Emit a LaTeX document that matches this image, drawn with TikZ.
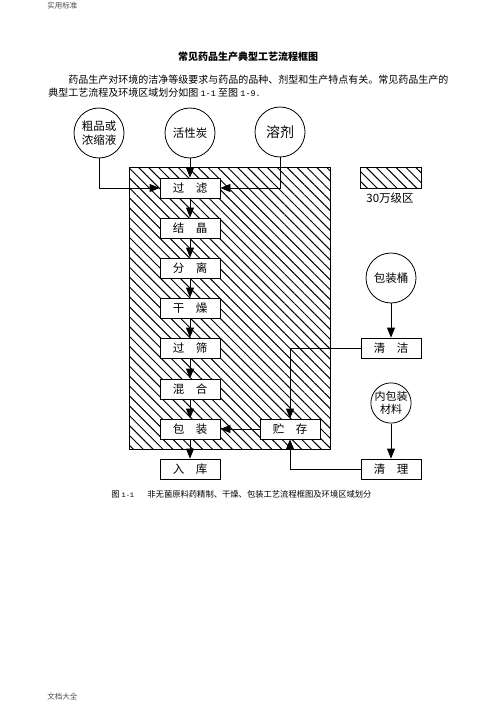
\documentclass[tikz,border=0pt]{standalone}
\usepackage{fontspec}
\setmainfont{Noto Sans CJK SC}
\newfontfamily\codefont{Liberation Mono}
\usetikzlibrary{arrows.meta}
\usetikzlibrary{patterns.meta}

\begin{document}
\begin{tikzpicture}[x=1bp,y=-1bp,line width=.8bp,
	box/.style={draw,fill=white,minimum width=60bp,minimum height=20bp,inner sep=0pt,font=\fontsize{11.5bp}{12bp}\selectfont},
	src/.style={draw,circle,fill=white,inner sep=0pt,minimum size=50bp,align=center,font=\fontsize{11.5bp}{14bp}\selectfont},
	arr/.style={-{Triangle[length=10bp,width=8bp]}},
	hatch/.style={pattern={Lines[angle=-45,distance=7bp,line width=1bp]}}]
	\useasboundingbox (0,0) rectangle (496,702);
	% Page Text %
	\node (head) [anchor=west,inner sep=0pt,text=black!70,font=\fontsize{7.5bp}{8bp}\selectfont] at (47,6) {实用标准};
	\node (foot) [anchor=west,inner sep=0pt,text=black!70,font=\fontsize{7.5bp}{8bp}\selectfont] at (47,697) {文档大全};
	\node (title) [inner sep=0pt,font=\fontsize{10bp}{12bp}\selectfont\bfseries] at (248,57) {常见药品生产典型工艺流程框图};
	\node (para1) [anchor=west,inner sep=0pt,font=\fontsize{10bp}{12bp}\selectfont] at (68,80) {药品生产对环境的洁净等级要求与药品的品种、剂型和生产特点有关。常见药品生产的};
	\node (para2) [anchor=west,inner sep=0pt,font=\fontsize{10bp}{12bp}\selectfont] at (48,93) {典型工艺流程及环境区域划分如图 {\codefont\fontsize{8.5bp}{10bp}\selectfont 1-1} 至图 {\codefont\fontsize{8.5bp}{10bp}\selectfont 1-9.}};
	\node (caption) [anchor=west,inner sep=0pt,font=\fontsize{8.3bp}{10bp}\selectfont] at (111,494) {图 {\codefont\fontsize{7bp}{9bp}\selectfont 1-1}\hspace{1.6em}非无菌原料药精制、干燥、包装工艺流程框图及环境区域划分};

	% 30万 Zone %
	\draw [hatch] (129,167) rectangle (330,449);
	\draw [hatch] (360,167) rectangle (421,188);
	\node (zone) [font=\fontsize{11.5bp}{12bp}\selectfont] at (390,198) {30万级区};

	% Sources %
	\node (crude) [src] at (99,133) {粗品或\\浓缩液};
	\node (carbon) [src] at (190,133) {活性炭};
	\node (solvent) [src,font=\fontsize{14bp}{16bp}\selectfont] at (280,132) {溶剂};
	\node (drum) [src] at (391,278) {包装桶};
	\node (inner) [src,minimum size=40bp,font=\fontsize{11bp}{13bp}\selectfont] at (391,403) {内包装\\材料};

	% Process Steps %
	\node (filter) [box] at (190,188) {过\hspace{1em}滤};
	\node (cryst) [box] at (190,228) {结\hspace{1em}晶};
	\node (sep) [box] at (190,268) {分\hspace{1em}离};
	\node (dry) [box] at (190,308) {干\hspace{1em}燥};
	\node (sieve) [box] at (190,348) {过\hspace{1em}筛};
	\node (mix) [box] at (190,389) {混\hspace{1em}合};
	\node (pack) [box] at (190,429) {包\hspace{1em}装};
	\node (store) [box] at (190,469) {入\hspace{1em}库};
	\node (hold) [box] at (290,429) {贮\hspace{1em}存};
	\node (clean) [box] at (391,348) {清\hspace{1em}洁};
	\node (tidy) [box] at (391,469) {清\hspace{1em}理};

	% Arrows %
	\draw [arr] (carbon) -- (filter);
	\draw [arr] (crude.south) |- (filter.west);
	\draw [arr] (solvent.south) |- (filter.east);
	\foreach \a/\b in {filter/cryst,cryst/sep,sep/dry,dry/sieve,sieve/mix,mix/pack,pack/store}
		\draw [arr] (\a) -- (\b);
	\draw [arr] (drum) -- (clean);
	\draw [arr] (inner) -- (tidy);
	\draw [arr] (clean.west) -| (hold.north);
	\draw [arr] (tidy.west) -| (hold.south);
	\draw [arr] (hold) -- (pack);
\end{tikzpicture}
\end{document}
